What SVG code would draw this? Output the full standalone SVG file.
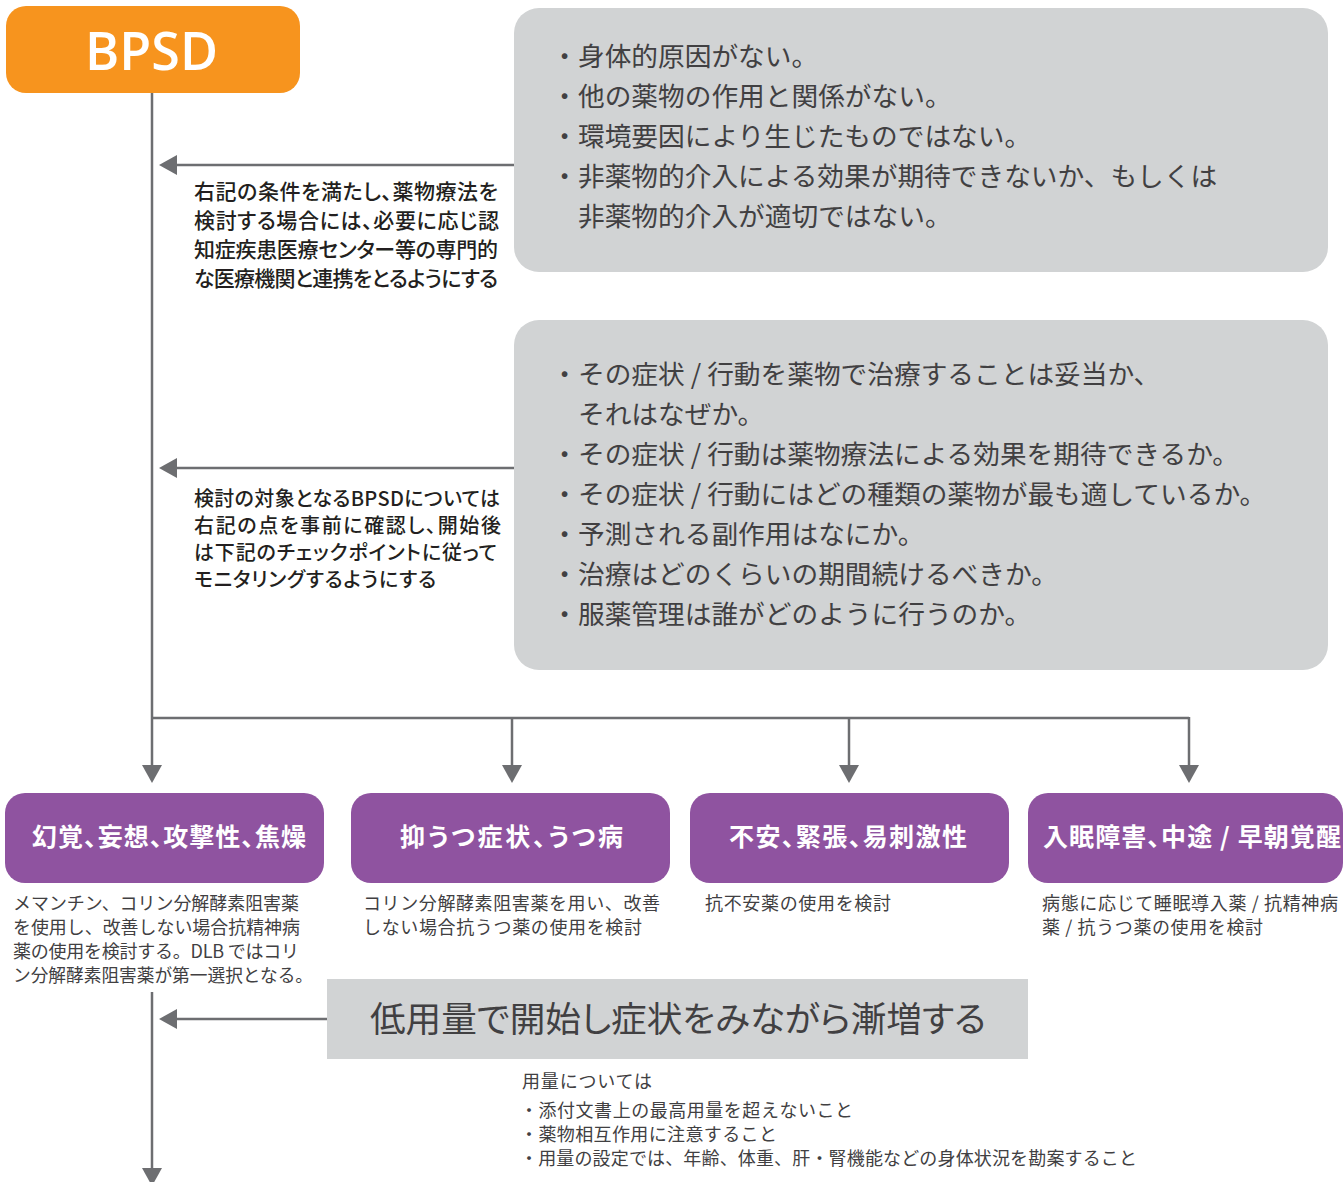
<svg xmlns="http://www.w3.org/2000/svg" width="1343" height="1182" viewBox="0 0 1343 1182">
<style>
.box{fill:#d1d3d4}
.purple{fill:#8f53a0}
.bl{font-family:"Noto Sans CJK JP","Noto Sans",sans-serif;font-size:26.7px;fill:#414042;font-weight:400}
.note{font-family:"Noto Sans CJK JP","Noto Sans",sans-serif;font-size:21px;fill:#231f20;font-weight:500;font-feature-settings:"palt"}
.note2{font-family:"Noto Sans CJK JP","Noto Sans",sans-serif;font-size:20px;fill:#231f20;font-weight:500;font-feature-settings:"palt"}
.title{font-family:"Noto Sans CJK JP","Noto Sans",sans-serif;font-size:25px;fill:#ffffff;font-weight:700;font-feature-settings:"palt"}
.sub{font-family:"Noto Sans CJK JP","Noto Sans",sans-serif;font-size:18px;fill:#414042;font-weight:400}
.conn{fill:none;stroke:#6d6e71;stroke-width:2.5}
</style>
<defs>
<marker id="arr" markerUnits="userSpaceOnUse" markerWidth="18" markerHeight="20" viewBox="0 0 18 20" refX="0" refY="10" orient="auto">
<path d="M0,0 L18,10 L0,20 Z" fill="#6d6e71"/>
</marker>
</defs>

<g id="connectors">
<path class="conn" d="M152,93 V765" marker-end="url(#arr)"/>
<path class="conn" d="M152,718 H1189"/>
<path class="conn" d="M512,718 V765" marker-end="url(#arr)"/>
<path class="conn" d="M849,718 V765" marker-end="url(#arr)"/>
<path class="conn" d="M1189,717 V765" marker-end="url(#arr)"/>
<path class="conn" d="M514,165 H177" marker-end="url(#arr)"/>
<path class="conn" d="M514,468 H177" marker-end="url(#arr)"/>
<path class="conn" d="M327,1019 H177" marker-end="url(#arr)"/>
<path class="conn" d="M152,992 V1168" marker-end="url(#arr)"/>
</g>

<g id="bpsd">
<rect x="6" y="6" width="294" height="87" rx="20" fill="#f7941e"/>
<text x="85" y="70" font-family="'Open Sans','Liberation Sans',sans-serif" font-weight="600" font-size="52" fill="#ffffff" textLength="133" lengthAdjust="spacing">BPSD</text>
</g>

<g id="conditions">
<rect class="box" x="514" y="8" width="814" height="264" rx="25"/>
<text class="bl" x="551.3" y="66">・身体的原因がない。</text>
<text class="bl" x="551.3" y="106">・他の薬物の作用と関係がない。</text>
<text class="bl" x="551.3" y="146">・環境要因により生じたものではない。</text>
<text class="bl" x="551.3" y="186">・非薬物的介入による効果が期待できないか、もしくは</text>
<text class="bl" x="578" y="226">非薬物的介入が適切ではない。</text>
</g>

<g id="note1">
<text class="note" x="194" y="199" textLength="304" lengthAdjust="spacing">右記の条件を満たし、薬物療法を</text>
<text class="note" x="194" y="228" textLength="305" lengthAdjust="spacing">検討する場合には、必要に応じ認</text>
<text class="note" x="194" y="257" textLength="304" lengthAdjust="spacing">知症疾患医療センター等の専門的</text>
<text class="note" x="194" y="286" textLength="304" lengthAdjust="spacing">な医療機関と連携をとるようにする</text>
</g>

<g id="checks">
<rect class="box" x="514" y="320" width="814" height="350" rx="25"/>
<text class="bl" x="551.3" y="384">・その症状 / 行動を薬物で治療することは妥当か、</text>
<text class="bl" x="578" y="424">それはなぜか。</text>
<text class="bl" x="551.3" y="464">・その症状 / 行動は薬物療法による効果を期待できるか。</text>
<text class="bl" x="551.3" y="504">・その症状 / 行動にはどの種類の薬物が最も適しているか。</text>
<text class="bl" x="551.3" y="544">・予測される副作用はなにか。</text>
<text class="bl" x="551.3" y="584">・治療はどのくらいの期間続けるべきか。</text>
<text class="bl" x="551.3" y="624">・服薬管理は誰がどのように行うのか。</text>
</g>

<g id="note2">
<text class="note2" x="194" y="506" textLength="306" lengthAdjust="spacing">検討の対象となるBPSDについては</text>
<text class="note2" x="194" y="533" textLength="307" lengthAdjust="spacing">右記の点を事前に確認し、開始後</text>
<text class="note2" x="194" y="560" textLength="303" lengthAdjust="spacing">は下記のチェックポイントに従って</text>
<text class="note2" x="194" y="587" textLength="242" lengthAdjust="spacing">モニタリングするようにする</text>
</g>

<g id="hallucination">
<rect class="purple" x="5" y="793" width="319" height="90" rx="20"/>
<text class="title" x="32" y="846" textLength="274" lengthAdjust="spacing">幻覚、妄想、攻撃性、焦燥</text>
<text class="sub" x="13" y="910" textLength="286" lengthAdjust="spacingAndGlyphs">メマンチン、コリン分解酵素阻害薬</text>
<text class="sub" x="13" y="934" textLength="287" lengthAdjust="spacingAndGlyphs">を使用し、改善しない場合抗精神病</text>
<text class="sub" x="13" y="958" textLength="286" lengthAdjust="spacing">薬の使用を検討する。DLB ではコリ</text>
<text class="sub" x="13" y="982" textLength="300" lengthAdjust="spacingAndGlyphs">ン分解酵素阻害薬が第一選択となる。</text>
</g>

<g id="depression">
<rect class="purple" x="351" y="793" width="319" height="90" rx="20"/>
<text class="title" x="400" y="846" textLength="223" lengthAdjust="spacing">抑うつ症状、うつ病</text>
<text class="sub" x="363" y="910" textLength="297" lengthAdjust="spacing">コリン分解酵素阻害薬を用い、改善</text>
<text class="sub" x="363" y="934" textLength="279" lengthAdjust="spacing">しない場合抗うつ薬の使用を検討</text>
</g>

<g id="anxiety">
<rect class="purple" x="690" y="793" width="319" height="90" rx="20"/>
<text class="title" x="729" y="846" textLength="238" lengthAdjust="spacing">不安、緊張、易刺激性</text>
<text class="sub" x="705" y="910" textLength="186" lengthAdjust="spacing">抗不安薬の使用を検討</text>
</g>

<g id="insomnia">
<rect class="purple" x="1028" y="793" width="315" height="90" rx="20"/>
<text class="title" x="1043" y="846" textLength="298" lengthAdjust="spacing">入眠障害、中途 / 早朝覚醒</text>
<text class="sub" x="1042" y="910" textLength="296" lengthAdjust="spacing">病態に応じて睡眠導入薬 / 抗精神病</text>
<text class="sub" x="1042" y="934" textLength="221" lengthAdjust="spacing">薬 / 抗うつ薬の使用を検討</text>
</g>

<g id="lowdose">
<rect class="box" x="327" y="979" width="701" height="80"/>
<text x="370" y="1032" font-family="'Noto Sans CJK JP','Noto Sans',sans-serif" font-size="35" fill="#414042" font-weight="400" style="font-feature-settings:'palt'" textLength="616" lengthAdjust="spacingAndGlyphs">低用量で開始し症状をみながら漸増する</text>
</g>

<g id="dosenote">
<text class="sub" x="522" y="1088" textLength="130" lengthAdjust="spacing">用量については</text>
<text class="sub" x="520" y="1117" textLength="333" lengthAdjust="spacing">・添付文書上の最高用量を超えないこと</text>
<text class="sub" x="520" y="1141" textLength="257" lengthAdjust="spacing">・薬物相互作用に注意すること</text>
<text class="sub" x="520" y="1165" textLength="617" lengthAdjust="spacing">・用量の設定では、年齢、体重、肝・腎機能などの身体状況を勘案すること</text>
</g>
</svg>
